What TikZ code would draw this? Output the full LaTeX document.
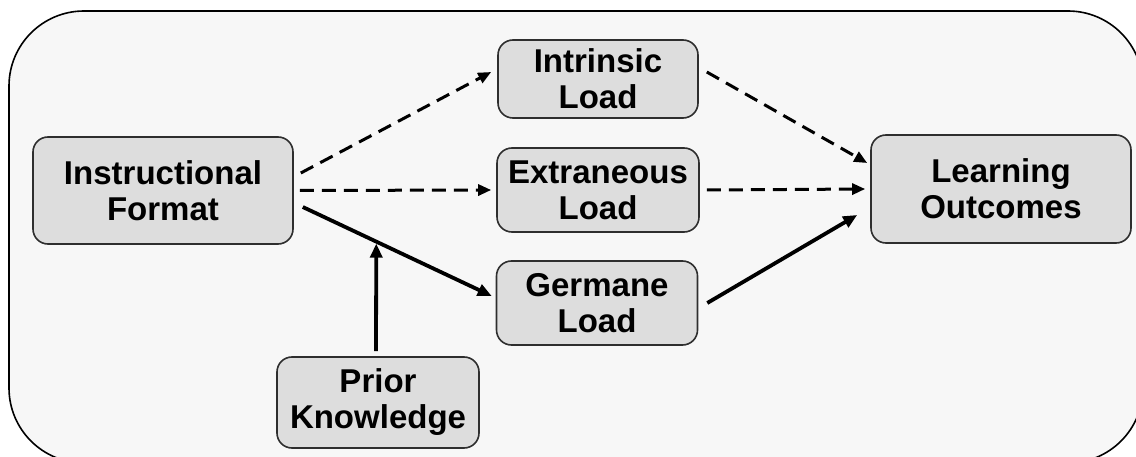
\documentclass[tikz,border=0pt]{standalone}
\usepackage{fontspec}
\setmainfont{Liberation Sans}
\usetikzlibrary{arrows.meta,calc}
\definecolor{bgc}{HTML}{F7F7F7}
\definecolor{boxc}{HTML}{DDDDDD}
\definecolor{edgec}{HTML}{2E2E2E}
\tikzset{
  box/.style={draw=edgec, line width=1.6pt, fill=boxc, rounded corners=15pt,
    align=center, inner sep=0pt,
    font=\fontsize{33}{36}\selectfont\bfseries},
  dasharrow/.style={line width=3pt, dash pattern=on 14pt off 8pt,
    -{Triangle[length=13pt,width=11pt]}},
  solidarrow/.style={line width=3.8pt, -{Triangle[length=14pt,width=12pt]}}
}
\begin{document}
\begin{tikzpicture}[x=1pt,y=-1pt]
\useasboundingbox (0,0) rectangle (1136,457);
\fill[white] (0,0) rectangle (1136,457);
\begin{scope}
\clip (0,0) rectangle (1136,457);
\draw[line width=1.6pt, draw=black, fill=bgc, rounded corners=75pt] (9,11) rectangle (1143,463);
\end{scope}

\node[box, minimum width=260pt, minimum height=107pt] (IF) at (163,190.5) {Instructional\\Format};
\node[box, minimum width=200pt, minimum height=78pt] (IL) at (598,79) {Intrinsic\\Load};
\node[box, minimum width=202pt, minimum height=84pt] (EL) at (598,190) {Extraneous\\Load};
\node[box, minimum width=201pt, minimum height=84pt] (GL) at (597,303) {Germane\\Load};
\node[box, minimum width=260pt, minimum height=108pt] (LO) at (1001,189) {Learning\\Outcomes};
\node[box, minimum width=202pt, minimum height=91pt] (PK) at (378,402.5) {Prior\\Knowledge};

\draw[dasharrow] ($(IF.east)+(7,-17.5)$) -- ($(IL.west)+(-6,-7)$);
\draw[dasharrow] ($(IF.east)+(6,0)$) -- ($(EL.west)+(-5,0)$);
\draw[solidarrow] ($(IF.east)+(9,16.5)$) -- coordinate[pos=0.389] (mid) ($(GL.west)+(-4,-7)$);

\draw[dasharrow] ($(IL.east)+(8,-7)$) -- ($(LO.west)+(-3,-26)$);
\draw[dasharrow] ($(EL.east)+(7,0)$) -- ($(LO.west)+(-5,0)$);
\draw[solidarrow] ($(GL.east)+(9,0)$) -- ($(LO.west)+(-13,26)$);

\draw[solidarrow] ($(PK.north)+(-2,-5)$) -- ($(mid)+(0,2)$);
\end{tikzpicture}
\end{document}
